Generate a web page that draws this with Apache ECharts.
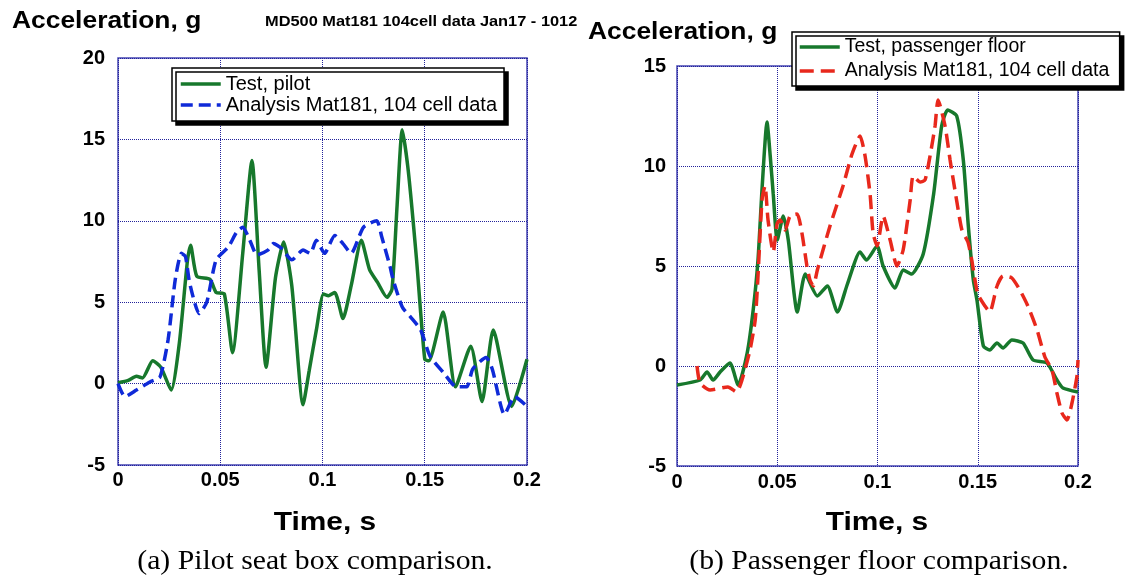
<!DOCTYPE html>
<html>
<head>
<meta charset="utf-8">
<script src="https://cdn.jsdelivr.net/npm/echarts@6/dist/echarts.min.js"></script>
<style>
  html, body { margin: 0; padding: 0; background: #fff; }
  #chart { width: 1126px; height: 580px; }
</style>
</head>
<body>
<div id="chart"></div>
<script>
// ---- Data (time s, acceleration g) ----
var xTicks = [0, 0.05, 0.1, 0.15, 0.2];
var yTicksPilot = [-5, 0, 5, 10, 15, 20];
var yTicksFloor = [-5, 0, 5, 10, 15];

var pilotTest = [
  [0, 0.05], [0.005, 0.2], [0.009, 0.45], [0.012, 0.35], [0.017, 1.4], [0.021, 1.0],
  [0.026, -0.4], [0.030, 2.5], [0.034, 7.6], [0.0355, 8.5], [0.0385, 6.6], [0.045, 6.4],
  [0.048, 5.6], [0.052, 5.5], [0.056, 1.9], [0.061, 8.0], [0.0655, 13.7], [0.069, 7.0],
  [0.0724, 1.0], [0.077, 6.5], [0.081, 8.7], [0.085, 6.0], [0.0905, -1.3], [0.0935, 0.8],
  [0.097, 3.3], [0.1005, 5.5], [0.103, 5.4], [0.106, 5.6], [0.110, 4.0], [0.114, 6.0],
  [0.119, 8.8], [0.123, 7.0], [0.127, 6.2], [0.1315, 5.3], [0.134, 5.8], [0.1365, 11.0],
  [0.139, 15.6], [0.142, 13.0], [0.146, 7.6], [0.150, 1.5], [0.152, 1.4], [0.159, 4.4],
  [0.165, -0.2], [0.1725, 2.3], [0.178, -1.1], [0.1835, 3.3], [0.1925, -1.4], [0.2, 1.5]
];
var pilotAnalysis = [
  [0, 0], [0.0034, -0.8], [0.009, -0.4], [0.0156, 0.1], [0.0205, 0.4], [0.0245, 2.7],
  [0.028, 6.4], [0.031, 8.0], [0.033, 7.8], [0.035, 6.2], [0.0397, 4.3], [0.0434, 5.0],
  [0.048, 7.6], [0.054, 8.4], [0.058, 9.3], [0.061, 9.6], [0.0645, 8.8], [0.068, 7.9],
  [0.0733, 8.2], [0.076, 8.6], [0.080, 8.3], [0.085, 7.6], [0.0905, 8.2], [0.094, 8.0],
  [0.097, 8.8], [0.101, 8.0], [0.106, 9.1], [0.110, 8.6], [0.114, 8.0], [0.120, 9.6],
  [0.1265, 10.0], [0.129, 9.0], [0.133, 7.2], [0.1345, 6.4], [0.139, 4.7], [0.143, 4.1],
  [0.148, 3.3], [0.1525, 1.7], [0.159, 0.7], [0.1655, -0.2], [0.1705, -0.2], [0.1735, 0.9],
  [0.180, 1.6], [0.183, 0.9], [0.189, -1.9], [0.194, -0.8], [0.2, -1.4]
];
var floorTest = [
  [0, -0.95], [0.0115, -0.7], [0.015, -0.3], [0.018, -0.7], [0.0215, -0.3], [0.0264, 0.15],
  [0.0305, -0.95], [0.035, 0.65], [0.038, 2.8], [0.0404, 5.3], [0.0425, 9.0], [0.0449, 12.2],
  [0.0465, 10.5], [0.048, 8.6], [0.050, 6.3], [0.053, 7.5], [0.0555, 6.3], [0.060, 2.7],
  [0.064, 4.6], [0.070, 3.5], [0.075, 4.0], [0.080, 2.7], [0.085, 4.1], [0.0913, 5.7],
  [0.0945, 5.3], [0.0998, 6.0], [0.1028, 5.0], [0.1087, 3.9], [0.1128, 4.8], [0.117, 4.6],
  [0.1228, 5.6], [0.128, 8.6], [0.132, 12.0], [0.135, 12.8], [0.1395, 12.5], [0.1428, 10.3],
  [0.1453, 7.0], [0.1478, 4.3], [0.1496, 3.3], [0.1528, 1.0], [0.156, 0.8], [0.1596, 1.15],
  [0.1626, 0.9], [0.167, 1.3], [0.1726, 1.15], [0.1776, 0.3], [0.1845, 0.15], [0.1895, -0.7],
  [0.1925, -1.1], [0.2, -1.3]
];
var floorAnalysis = [
  [0.0100, 0], [0.0115, -0.85], [0.0165, -1.2], [0.0254, -1.05], [0.0297, -1.3], [0.0324, -0.7],
  [0.0364, 0.8], [0.039, 2.3], [0.0404, 4.5], [0.0424, 8.3], [0.0439, 9.0], [0.0454, 7.3],
  [0.048, 5.7], [0.0499, 7.1], [0.0514, 7.3], [0.0539, 6.8], [0.0564, 7.5], [0.0599, 7.6],
  [0.0623, 6.65], [0.0648, 5.0], [0.0663, 4.3], [0.068, 4.0], [0.070, 4.8], [0.0763, 7.0],
  [0.0828, 9.0], [0.0873, 10.6], [0.0913, 11.5], [0.0938, 10.5], [0.0963, 8.6], [0.0978, 6.65],
  [0.0998, 6.0], [0.1028, 7.5], [0.1063, 6.3], [0.1097, 5.0], [0.1128, 5.8], [0.1163, 8.3],
  [0.1178, 9.5], [0.1213, 9.2], [0.1237, 9.3], [0.1262, 10.5], [0.1287, 12.0], [0.1302, 13.3],
  [0.1337, 12.0], [0.1362, 10.3], [0.1396, 8.2], [0.1421, 6.8], [0.1451, 6.2], [0.147, 5.3],
  [0.150, 3.6], [0.1536, 3.0], [0.156, 2.7], [0.1596, 4.0], [0.1626, 4.5], [0.167, 4.4],
  [0.171, 3.8], [0.175, 3.0], [0.1796, 1.8], [0.1835, 0.45], [0.187, -0.2], [0.1895, -1.35],
  [0.192, -2.35], [0.1945, -2.7], [0.197, -1.85], [0.1995, -0.5], [0.2, 0.3]
];

var names = {
  pilotTest: 'Test, pilot',
  pilotAnalysis: 'Analysis Mat181, 104 cell data',
  floorTest: 'Test, passenger floor',
  floorAnalysis: 'Analysis Mat181, 104 cell data '
};

// ---- Styling ----
var SANS = '"Liberation Sans", Arial, Helvetica, sans-serif';
var SERIF = '"Liberation Serif", "Times New Roman", serif';
var GREEN = '#17782c';
var BLUE = '#0f2ad8';
var RED = '#e8281c';
var FRAME = '#4646b4';
var GRIDC = '#22229a';

function xAxisCfg(idx, margin) {
  return {
    type: 'value', gridIndex: idx, min: xTicks[0], max: xTicks[xTicks.length - 1],
    interval: xTicks[1] - xTicks[0],
    axisLine: { show: false }, axisTick: { show: false },
    axisLabel: { color: '#000', fontFamily: SANS, fontWeight: 'bold', fontSize: 20, margin: margin },
    splitLine: { show: true, lineStyle: { color: GRIDC, type: 'dotted', width: 1 } }
  };
}
function yAxisCfg(idx, ticks, margin) {
  return {
    type: 'value', gridIndex: idx, min: ticks[0], max: ticks[ticks.length - 1],
    interval: ticks[1] - ticks[0],
    axisLine: { show: false }, axisTick: { show: false },
    axisLabel: { color: '#000', fontFamily: SANS, fontWeight: 'bold', fontSize: 20, margin: margin,
                 padding: [0, 0, 10, 0] },
    splitLine: { show: true, lineStyle: { color: GRIDC, type: 'dotted', width: 1 } }
  };
}
function legendCfg(left, top, items, gap, padding, fs) {
  return {
    orient: 'vertical', left: left, top: top, data: items,
    itemWidth: 40, itemHeight: 14, itemGap: gap, padding: padding,
    backgroundColor: '#fff', borderColor: '#000', borderWidth: 1.5,
    shadowColor: '#000', shadowBlur: 0, shadowOffsetX: 4, shadowOffsetY: 4,
    itemStyle: { opacity: 0 },
    lineStyle: { width: 3.5 },
    textStyle: { color: '#000', fontFamily: SANS, fontSize: fs },
    selectedMode: false
  };
}
function lineSeries(name, data, idx, color, dash) {
  return {
    type: 'line', name: name, data: data, xAxisIndex: idx, yAxisIndex: idx,
    symbol: 'none', smooth: 0.2, animation: false,
    lineStyle: { color: color, width: 3.5, type: dash || 'solid' },
    itemStyle: { color: color }
  };
}
function txt(x, y, text, font, align, sx) {
  return {
    type: 'text', x: x, y: y, scaleX: sx || 1, silent: true,
    style: { text: text, font: font, fill: '#000', textAlign: align || 'left', textVerticalAlign: 'middle' }
  };
}

var chart = echarts.init(document.getElementById('chart'), null, { renderer: 'canvas' });
chart.setOption({
  backgroundColor: '#fff',
  animation: false,
  grid: [
    { left: 118, top: 58, width: 409, height: 407, show: true, borderColor: FRAME, borderWidth: 1.5,
      backgroundColor: 'transparent', containLabel: false, outerBoundsMode: 'none' },
    { left: 677, top: 66, width: 401, height: 400, show: true, borderColor: FRAME, borderWidth: 1.5,
      backgroundColor: 'transparent', containLabel: false, outerBoundsMode: 'none' }
  ],
  xAxis: [xAxisCfg(0, 5), xAxisCfg(1, 6)],
  yAxis: [yAxisCfg(0, yTicksPilot, 13), yAxisCfg(1, yTicksFloor, 11)],
  legend: [
    legendCfg(172, 68, [names.pilotTest, names.pilotAnalysis], 1, [6, 7, 6, 7], 20),
    legendCfg(792, 32, [names.floorTest, names.floorAnalysis], 4, [5, 5, 5, 6], 19.5)
  ],
  series: [
    lineSeries(names.pilotTest, pilotTest, 0, GREEN),
    lineSeries(names.pilotAnalysis, pilotAnalysis, 0, BLUE, [12, 6]),
    lineSeries(names.floorTest, floorTest, 1, GREEN),
    lineSeries(names.floorAnalysis, floorAnalysis, 1, RED, [14, 7])
  ],
  graphic: [
    txt(12, 21, 'Acceleration, g', 'bold 24px ' + SANS, 'left', 1.1),
    txt(265, 22, 'MD500 Mat181 104cell data Jan17 - 1012', 'bold 14px ' + SANS, 'left', 1.17),
    txt(588, 32, 'Acceleration, g', 'bold 24px ' + SANS, 'left', 1.1),
    txt(325, 523, 'Time, s', 'bold 26px ' + SANS, 'center', 1.15),
    txt(877, 523, 'Time, s', 'bold 26px ' + SANS, 'center', 1.15),
    txt(315, 562, '(a) Pilot seat box comparison.', '27px ' + SERIF, 'center', 1.1),
    txt(879, 562, '(b) Passenger floor comparison.', '27px ' + SERIF, 'center', 1.1)
  ]
});
</script>
</body>
</html>
